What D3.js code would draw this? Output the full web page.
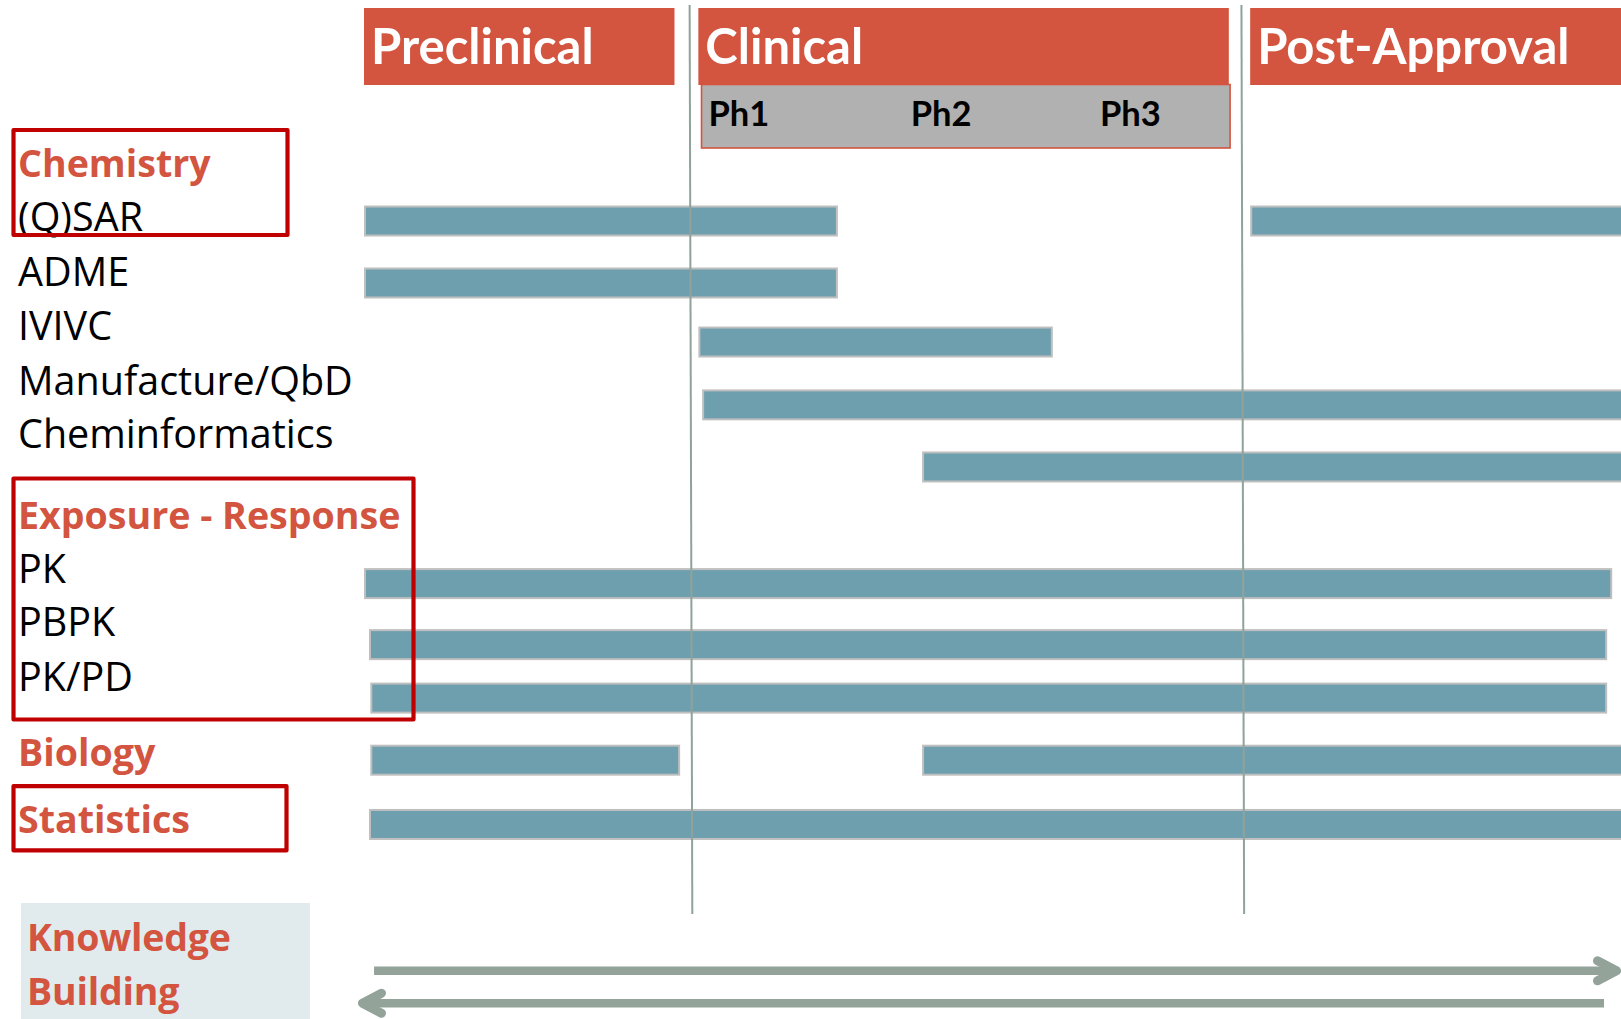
<!DOCTYPE html>
<html><head><meta charset="utf-8">
<script src="https://cdn.jsdelivr.net/npm/d3@7"></script>
<style>
  html, body { margin: 0; padding: 0; background: #fff; }
  svg { display: block; }
</style>
</head><body>
<svg id="chart" width="1621" height="1019"></svg>
<script>
// ---- Development stages along the timeline (0 = start of preclinical, 100 = right edge) ----
const phases      = ["Preclinical", "Clinical", "Post-Approval"];
const phaseStart  = [0, 26.6, 70.5];
const phaseEnd    = [24.7, 68.8, 100];
const phaseBreaks = [26.0, 69.9];

const subPhases     = ["Ph1", "Ph2", "Ph3"];
const subPhaseStart = [27.4, 43.5, 58.55];
const subPhaseSpan  = [26.85, 68.9];

// ---- Discipline rows ----
const rowLabels = ["Chemistry", "(Q)SAR", "ADME", "IVIVC", "Manufacture/QbD", "Cheminformatics",
                   "Exposure - Response", "PK", "PBPK", "PK/PD", "Biology", "Statistics"];
const rowIsGroup = [true, false, false, false, false, false, true, false, false, false, true, true];

// ---- Activity bars: which row, and where each starts / ends on the timeline ----
const barRow   = ["(Q)SAR", "(Q)SAR", "ADME", "IVIVC", "Manufacture/QbD", "Cheminformatics",
                  "PK", "PBPK", "PK/PD", "Biology", "Biology", "Statistics"];
const barStart = [0, 70.5, 0, 26.6, 26.9, 44.4, 0, 0.4, 0.5, 0.5, 44.4, 0.4];
const barEnd   = [37.7, 101, 37.7, 54.8, 101, 101, 99.3, 98.9, 98.9, 25.15, 101, 101];

// ---- Knowledge-building feedback arrows ----
const arrowFrom = [0.8, 98.65];
const arrowTo   = [100, -0.48];
const footerLines = ["Knowledge", "Building"];

// ---- Layout ----
const COLORS = {
  header: "#D3543F",
  accent: "#D3543F",
  outline: "#C00000",
  bar: "#6E9FAF",
  barStroke: "#BFBFBF",
  phaseBox: "#B1B1B1",
  divider: "#8FA39A",
  arrow: "#93A39A",
  footerBox: "#E1EBEE"
};

// slot positions (in row units) of the labels and of the bars of each row
const labelSlot = {"Chemistry": 0, "(Q)SAR": 1, "ADME": 2.02, "IVIVC": 3.02, "Manufacture/QbD": 4.04,
  "Cheminformatics": 5.02, "Exposure - Response": 6.52, "PK": 7.52, "PBPK": 8.5, "PK/PD": 9.52,
  "Biology": 10.91, "Statistics": 12.15, "Knowledge": 14.33, "Building": 15.34};
const barSlot = {"(Q)SAR": 0.815, "ADME": 1.963, "IVIVC": 3.056, "Manufacture/QbD": 4.22,
  "Cheminformatics": 5.37, "PK": 7.53, "PBPK": 8.66, "PK/PD": 9.65, "Biology": 10.8, "Statistics": 11.99};
const arrowSlot = [14.7, 15.3];

const svg = d3.select("#chart");
const x = d3.scaleLinear().domain([0, 100]).range([364, 1621]);
const row = d3.scaleLinear().domain([0, 1]).range([177, 231]);

const labelFont = "'Open Sans', 'Noto Sans', sans-serif";
const headFont = "Lato, 'Open Sans', sans-serif";

// ---- Stage headers ----
const head = svg.append("g");
head.selectAll("rect").data(phases).join("rect")
  .attr("x", (d, i) => x(phaseStart[i]))
  .attr("y", 8)
  .attr("width", (d, i) => x(phaseEnd[i]) - x(phaseStart[i]))
  .attr("height", 77)
  .attr("fill", COLORS.header);
head.selectAll("text").data(phases).join("text")
  .attr("x", (d, i) => x(phaseStart[i]) + 7)
  .attr("y", 64)
  .attr("fill", "#fff")
  .style("font-family", headFont)
  .style("font-weight", 700)
  .style("font-size", "49px")
  .text(d => d);

// clinical sub-phase strip
svg.append("rect")
  .attr("x", x(subPhaseSpan[0]))
  .attr("y", 84.5)
  .attr("width", x(subPhaseSpan[1]) - x(subPhaseSpan[0]))
  .attr("height", 63.5)
  .attr("fill", COLORS.phaseBox)
  .attr("stroke", COLORS.header)
  .attr("stroke-width", 1.6);
svg.append("g").selectAll("text").data(subPhases).join("text")
  .attr("x", (d, i) => x(subPhaseStart[i]))
  .attr("y", 126)
  .attr("fill", "#000")
  .style("font-family", headFont)
  .style("font-weight", 700)
  .style("font-size", "34.5px")
  .text(d => d);

// ---- Activity bars ----
const bars = barRow.map((r, i) => ({row: r, start: barStart[i], end: barEnd[i]}));
const BAR_H = 29;
svg.append("g").selectAll("rect").data(bars).join("rect")
  .attr("x", d => x(d.start) + 1)
  .attr("y", d => row(barSlot[d.row]) - BAR_H / 2)
  .attr("width", d => x(d.end) - x(d.start) - 2)
  .attr("height", BAR_H)
  .attr("fill", COLORS.bar)
  .attr("stroke", COLORS.barStroke)
  .attr("stroke-width", 2);

// ---- Stage dividers (drawn over the bars) ----
svg.append("g").selectAll("line").data(phaseBreaks).join("line")
  .attr("x1", d => x(d) - 1.2)
  .attr("x2", d => x(d) + 1.5)
  .attr("y1", 5)
  .attr("y2", 914)
  .attr("stroke", COLORS.divider)
  .attr("stroke-width", 2);

// ---- Row labels ----
svg.append("g").selectAll("text").data(rowLabels).join("text")
  .attr("x", 18)
  .attr("y", d => row(labelSlot[d]))
  .attr("fill", (d, i) => rowIsGroup[i] ? COLORS.accent : "#000")
  .style("font-family", labelFont)
  .style("font-weight", (d, i) => rowIsGroup[i] ? 700 : 400)
  .style("font-size", (d, i) => rowIsGroup[i] ? "37.6px" : "39.5px")
  .text(d => d);

// ---- Group outlines ----
const outlines = [
  {from: "Chemistry", to: "(Q)SAR", top: -0.87, bottom: 0.074, right: 287.5},
  {from: "Exposure - Response", to: "PK/PD", top: -0.937, bottom: 0.526, right: 413.5},
  {from: "Statistics", to: "Statistics", top: -0.87, bottom: 0.32, right: 286.5}
];
svg.append("g").selectAll("rect").data(outlines).join("rect")
  .attr("x", 13.5)
  .attr("y", d => row(labelSlot[d.from] + d.top))
  .attr("width", d => d.right - 13.5)
  .attr("height", d => row(labelSlot[d.to] + d.bottom) - row(labelSlot[d.from] + d.top))
  .attr("fill", "none")
  .attr("stroke", COLORS.outline)
  .attr("stroke-width", 4.2)
  .attr("stroke-linejoin", "round");

// ---- Knowledge building panel ----
svg.append("rect")
  .attr("x", 21).attr("y", 903)
  .attr("width", 289).attr("height", 120)
  .attr("fill", COLORS.footerBox);
svg.append("g").selectAll("text").data(footerLines).join("text")
  .attr("x", 27)
  .attr("y", d => row(labelSlot[d]))
  .attr("fill", COLORS.accent)
  .style("font-family", labelFont)
  .style("font-weight", 700)
  .style("font-size", "37.5px")
  .style("letter-spacing", "-0.2px")
  .text(d => d);

// ---- Feedback arrows ----
const arrows = arrowFrom.map((f, i) => ({from: f, to: arrowTo[i], slot: arrowSlot[i]}));
const ag = svg.append("g");
arrows.forEach(a => {
  const y = row(a.slot);
  const dir = Math.sign(a.to - a.from);
  const tip = x(a.to) - dir * 4.5;
  ag.append("line")
    .attr("x1", x(a.from)).attr("x2", tip - dir * 2)
    .attr("y1", y).attr("y2", y)
    .attr("stroke", COLORS.arrow)
    .attr("stroke-width", 8.5);
  ag.append("path")
    .attr("d", d3.line()([[tip - dir * 19, y - 10], [tip, y], [tip - dir * 19, y + 10]]))
    .attr("fill", "none")
    .attr("stroke", COLORS.arrow)
    .attr("stroke-width", 9)
    .attr("stroke-linecap", "round")
    .attr("stroke-linejoin", "round");
});
</script></body></html>
